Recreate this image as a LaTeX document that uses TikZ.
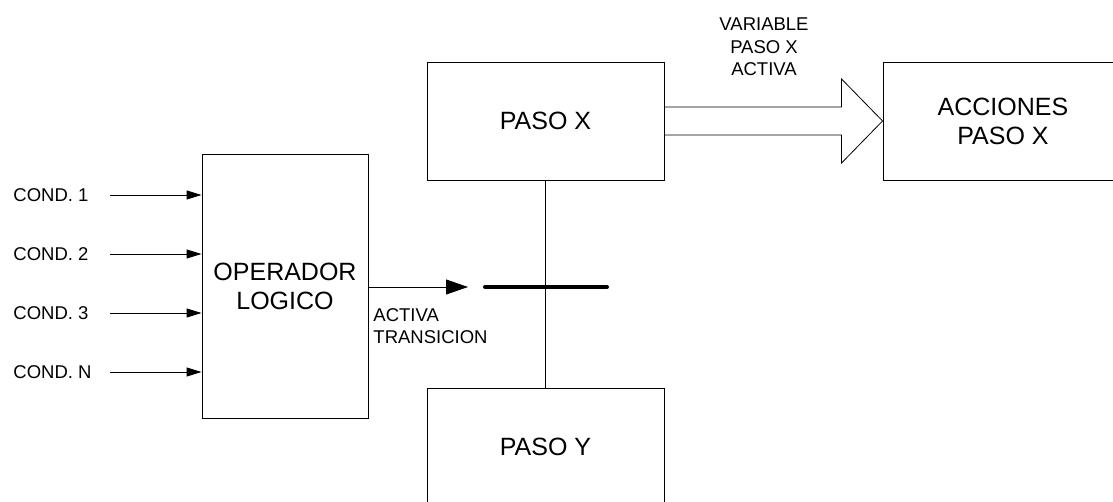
\documentclass[tikz,border=0pt]{standalone}
\usepackage{fontspec}
\setmainfont{Liberation Sans}
\usetikzlibrary{arrows.meta,calc}
\begin{document}
\begin{tikzpicture}[x=1pt,y=-1pt,
  line width=0.9pt,
  block/.style={draw, rectangle, inner sep=0pt, align=center,
                font=\fontsize{25}{29}\selectfont},
  big/.style={inner sep=0pt, align=center, font=\fontsize{25}{29}\selectfont},
  small/.style={inner sep=0pt, align=center,
                font=\fontsize{18.5}{22.5}\selectfont},
  sig/.style={-{Triangle[length=15pt,width=9pt]}},
  bigsig/.style={-{Triangle[length=22pt,width=15pt]}}]
\useasboundingbox (0,0) rectangle (1113,502);
\clip (0,0) rectangle (1113,502);

% step, action and logic blocks
\node[block, minimum width=237pt, minimum height=118pt] (px) at (545.5,121) {PASO X};
\node[block, minimum width=237pt, minimum height=160pt] (py) at (545.5,468) {};
\node[big] (pyl) at (545.5,447) {PASO Y};
\node[block, minimum width=300pt, minimum height=118pt] (acc) at (1033,121) {};
\node[big] (accl) at (1003,121) {ACCIONES\\PASO X};
\node[block, minimum width=166pt, minimum height=264pt] (op) at (285,286) {OPERADOR\\LOGICO};

% input conditions
\foreach \n/\t/\y in {c1/COND. 1/195, c2/COND. 2/254, c3/COND. 3/313, cn/COND. N/372}{
  \node[small, anchor=west] (\n) at (13,\y) {\t};
  \coordinate (\n s) at (110,\y);
  \draw[sig] (\n s) -- (op.west |- \n s);
}

% transition
\coordinate (ta) at (485,287);
\coordinate (tb) at (607,287);
\coordinate (te) at (468,287);
\draw (px.south) -- (py.north);
\draw[line width=4pt, line cap=round] (ta) -- (tb);
\draw[bigsig] (op.east |- te) -- (te);
\node[small, anchor=north west, align=left] (tl) at (373,308) {ACTIVA\\TRANSICION};

% step-active signal (hollow arrow)
\draw[line width=0.8pt, line join=miter]
  ($(px.east)+(0,-14)$) -- ($(acc.west)+(-41,-14)$) -- ($(acc.west)+(-41,-42)$)
  -- (acc.west) -- ($(acc.west)+(-41,42)$) -- ($(acc.west)+(-41,14)$)
  -- ($(px.east)+(0,14)$);
\node[small] (vl) at (764,47) {VARIABLE\\PASO X\\ACTIVA};
\end{tikzpicture}
\end{document}
